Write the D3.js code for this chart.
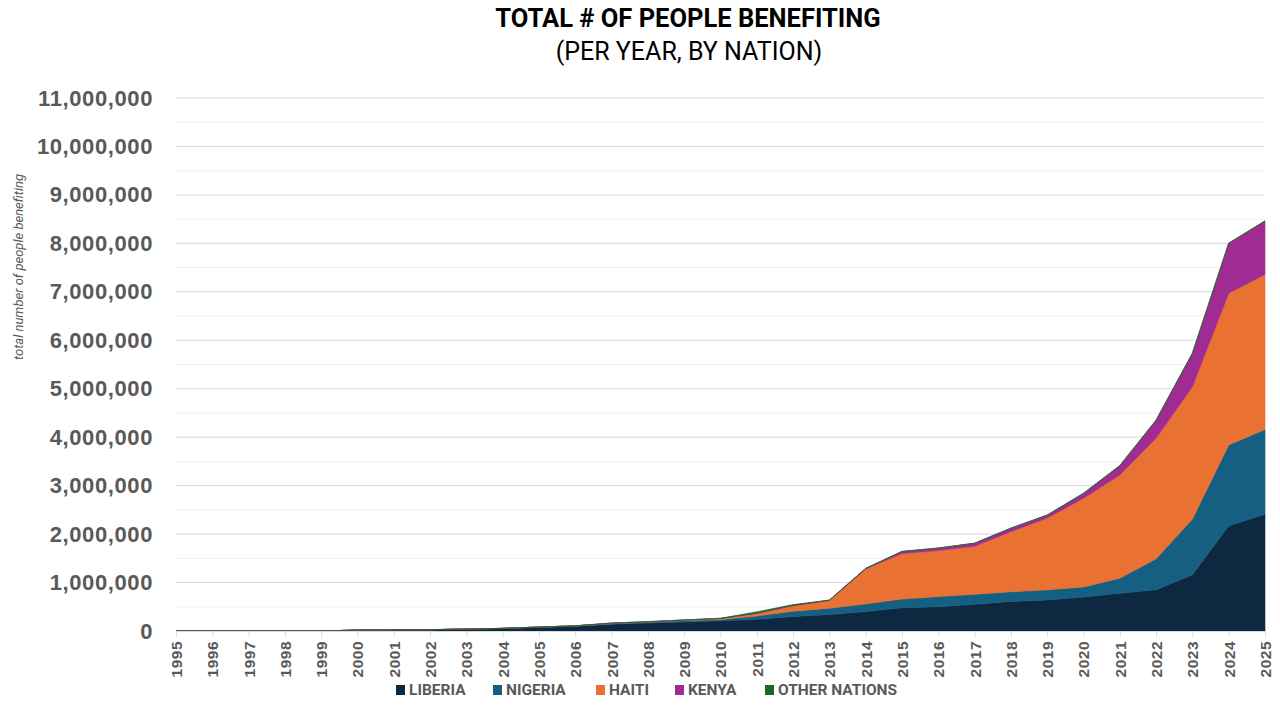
<!DOCTYPE html>
<html>
<head>
<meta charset="utf-8">
<script src="https://cdn.jsdelivr.net/npm/d3@7"></script>
<style>
  html, body { margin: 0; padding: 0; background: #fff; }
  svg { display: block; font-family: Roboto, "Liberation Sans", Arial, sans-serif; }
</style>
</head>
<body>
<svg id="chart" width="1280" height="720"></svg>
<script>
const years = d3.range(1995, 2026);
const seriesNames = ["LIBERIA", "NIGERIA", "HAITI", "KENYA", "OTHER NATIONS"];
const colors = ["#0e2841", "#156082", "#e97132", "#a02b93", "#196b24"];

const liberia = [0, 0, 0, 0, 0, 20000, 25000, 28000, 40000, 50000, 72000, 95000, 140000, 165000, 185000, 210000, 240000, 300000, 340000, 400000, 480000, 500000, 550000, 610000, 640000, 700000, 780000, 850000, 1160000, 2170000, 2410000];
const nigeria = [0, 0, 0, 0, 0, 0, 0, 0, 0, 5000, 10000, 12000, 15000, 18000, 30000, 25000, 70000, 110000, 130000, 160000, 180000, 210000, 210000, 200000, 210000, 210000, 310000, 640000, 1150000, 1670000, 1750000];
const haiti = [0, 0, 0, 0, 0, 0, 0, 0, 0, 0, 0, 0, 0, 5000, 8000, 20000, 50000, 110000, 160000, 720000, 940000, 950000, 990000, 1240000, 1480000, 1830000, 2130000, 2490000, 2730000, 3130000, 3200000];
const kenya = [0, 0, 0, 0, 0, 0, 0, 0, 0, 0, 0, 0, 10000, 5000, 5000, 5000, 10000, 10000, 5000, 10000, 40000, 50000, 60000, 70000, 60000, 100000, 190000, 370000, 690000, 1030000, 1100000];
const other = [0, 0, 0, 0, 0, 0, 0, 0, 0, 0, 0, 0, 0, 0, 0, 5000, 25000, 15000, 5000, 5000, 5000, 5000, 5000, 5000, 5000, 5000, 5000, 5000, 5000, 5000, 5000];
const yTicks = d3.range(0, 11000001, 1000000);
const yMinor = d3.range(500000, 11000000, 1000000);

const valueArrays = [liberia, nigeria, haiti, kenya, other];
const table = years.map((y, i) => {
  const row = { year: y };
  seriesNames.forEach((n, k) => row[n] = valueArrays[k][i]);
  return row;
});

const svg = d3.select("#chart");
const x = d3.scaleLinear().domain([1995, 2025]).range([176, 1265]);
const y = d3.scaleLinear().domain([0, 11000000]).range([631, 98]);

// gridlines
svg.append("g").selectAll("line.minor").data(yMinor).join("line")
  .attr("x1", 176).attr("x2", 1265)
  .attr("y1", d => y(d)).attr("y2", d => y(d))
  .attr("stroke", "#f0f0f0").attr("stroke-width", 1);
svg.append("g").selectAll("line.major").data(yTicks.slice(1)).join("line")
  .attr("x1", 176).attr("x2", 1265)
  .attr("y1", d => y(d)).attr("y2", d => y(d))
  .attr("stroke", "#d9d9d9").attr("stroke-width", 1);

// stacked areas
const stack = d3.stack().keys(seriesNames);
const stacked = stack(table);
const area = d3.area()
  .x(d => x(d.data.year))
  .y0(d => y(d[0]))
  .y1(d => y(d[1]));
svg.append("g").selectAll("path").data(stacked).join("path")
  .attr("d", area)
  .attr("fill", (d, i) => colors[i])
  .attr("stroke", (d, i) => colors[i])
  .attr("stroke-width", 0.6);

// x axis
const xAxis = d3.axisBottom(x).tickValues(years).tickFormat(d3.format("d")).tickSize(6).tickSizeOuter(0);
const gx = svg.append("g").attr("transform", "translate(0,631)").call(xAxis);
gx.select(".domain").attr("stroke", "#d9d9d9").attr("stroke-width", 1.2);
gx.selectAll(".tick line").attr("stroke", "#d9d9d9");
gx.selectAll(".tick text")
  .attr("transform", "rotate(-90)")
  .attr("x", -10).attr("y", 0).attr("dy", "0.35em")
  .attr("text-anchor", "end")
  .attr("fill", "#595959")
  .style("font-size", "15.5px").style("font-weight", "bold").style("letter-spacing", "0.5px");

// y axis
const yAxis = d3.axisLeft(y).tickValues(yTicks).tickFormat(d3.format(",")).tickSize(0);
const gy = svg.append("g").attr("transform", "translate(153,0)").call(yAxis);
gy.select(".domain").remove();
gy.selectAll(".tick text")
  .attr("x", 0).attr("fill", "#595959")
  .style("font-size", "22px").style("font-weight", "bold").style("letter-spacing", "0.6px");

// y axis title
svg.append("text")
  .attr("transform", "translate(23,267) rotate(-90)")
  .attr("text-anchor", "middle")
  .attr("fill", "#595959")
  .style("font-size", "13px").style("font-style", "italic")
  .text("total number of people benefiting");

// titles
svg.append("text").attr("x", 688).attr("y", 27).attr("text-anchor", "middle")
  .attr("fill", "#000").style("font-size", "25.5px").style("font-weight", "bold")
  .text("TOTAL # OF PEOPLE BENEFITING");
svg.append("text").attr("x", 689).attr("y", 60).attr("text-anchor", "middle")
  .attr("fill", "#000").style("font-size", "25px")
  .text("(PER YEAR, BY NATION)");

// legend
const legendX = [396, 493, 596, 675, 765];
const lg = svg.append("g").selectAll("g").data(seriesNames).join("g")
  .attr("transform", (d, i) => `translate(${legendX[i]},690)`);
lg.append("rect").attr("x", 0).attr("y", -5).attr("width", 9).attr("height", 10)
  .attr("fill", (d, i) => colors[i]);
lg.append("text").attr("x", 13).attr("y", 0).attr("dy", "0.35em")
  .attr("fill", "#595959").style("font-size", "15.5px").style("font-weight", "bold")
  .text(d => d);
</script>
</body>
</html>
